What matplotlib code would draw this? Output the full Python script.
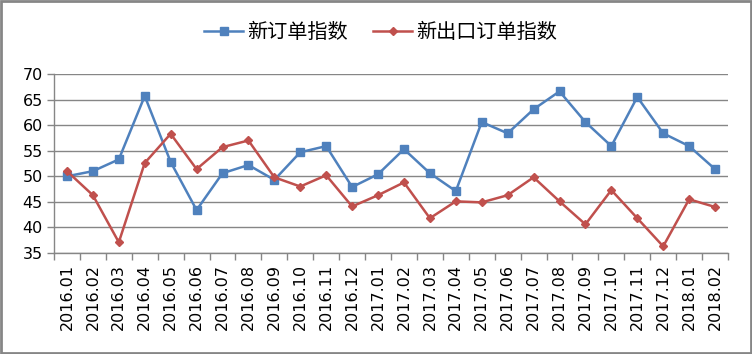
import matplotlib
matplotlib.use("Agg")
import matplotlib.pyplot as plt
from matplotlib.patches import Rectangle

plt.rcParams['font.family'] = ['Noto Sans CJK SC', 'DejaVu Sans']

categories = ["2016.01", "2016.02", "2016.03", "2016.04", "2016.05", "2016.06",
              "2016.07", "2016.08", "2016.09", "2016.10", "2016.11", "2016.12",
              "2017.01", "2017.02", "2017.03", "2017.04", "2017.05", "2017.06",
              "2017.07", "2017.08", "2017.09", "2017.10", "2017.11", "2017.12",
              "2018.01", "2018.02"]
new_orders = [50.0, 51.0, 53.3, 65.7, 52.8, 43.4, 50.6, 52.2, 49.3, 54.7, 55.9, 47.9,
              50.4, 55.3, 50.6, 47.1, 60.6, 58.4, 63.1, 66.6, 60.6, 55.9, 65.5, 58.4,
              55.9, 51.4]
new_export_orders = [51.0, 46.3, 37.1, 52.6, 58.3, 51.4, 55.7, 57.0, 49.8, 48.0, 50.2, 44.1,
                     46.3, 48.8, 41.8, 45.1, 44.9, 46.3, 49.8, 45.1, 40.6, 47.3, 41.8, 36.3,
                     45.5, 44.0]
series_names = ["新订单指数", "新出口订单指数"]
yticks = [35, 40, 45, 50, 55, 60, 65, 70]

fig = plt.figure(figsize=(7.52, 3.54), dpi=100)
ax = fig.add_axes([54/752, 101/354, 674/752, 179/354])

x = list(range(len(categories)))
l1, = ax.plot(x, new_orders, color="#4F81BD", lw=1.8, marker="s", markersize=6,
              label=series_names[0], zorder=3)
l2, = ax.plot(x, new_export_orders, color="#C0504D", lw=1.8, marker="D", markersize=4.5,
              label=series_names[1], zorder=3)

ax.set_xlim(-0.5, len(categories) - 0.5)
ax.set_ylim(35, 70)
ax.set_yticks(yticks)
ax.set_yticklabels([str(v) for v in yticks], fontsize=11.5, family="DejaVu Sans")
ax.set_xticks(x)
ax.set_xticklabels(categories, rotation=90, fontsize=11.5, family="DejaVu Sans")
ax.tick_params(axis="x", which="major", length=0, pad=8)
ax.set_xticks([i - 0.5 for i in range(len(categories) + 1)], minor=True)
ax.tick_params(axis="x", which="minor", length=5, color="#868686", width=1)
ax.tick_params(axis="y", length=5, color="#868686", width=1, pad=3)
ax.grid(axis="y", color="#868686", lw=1)
ax.set_axisbelow(True)
for s in ["top", "right"]:
    ax.spines[s].set_visible(False)
for s in ["left", "bottom"]:
    ax.spines[s].set_color("#868686")
    ax.spines[s].set_linewidth(1)

fig.legend(handles=[l1, l2], loc="center", bbox_to_anchor=(0.506, 0.907), ncol=2,
           frameon=False, fontsize=14.5, handlelength=1.9, columnspacing=1.3,
           handletextpad=0.2)

fig.patches.append(Rectangle((0.0015, 0.003), 0.997, 0.994, transform=fig.transFigure,
                             fill=False, edgecolor="#868686", lw=2))

fig.savefig("out.png", dpi=100)
